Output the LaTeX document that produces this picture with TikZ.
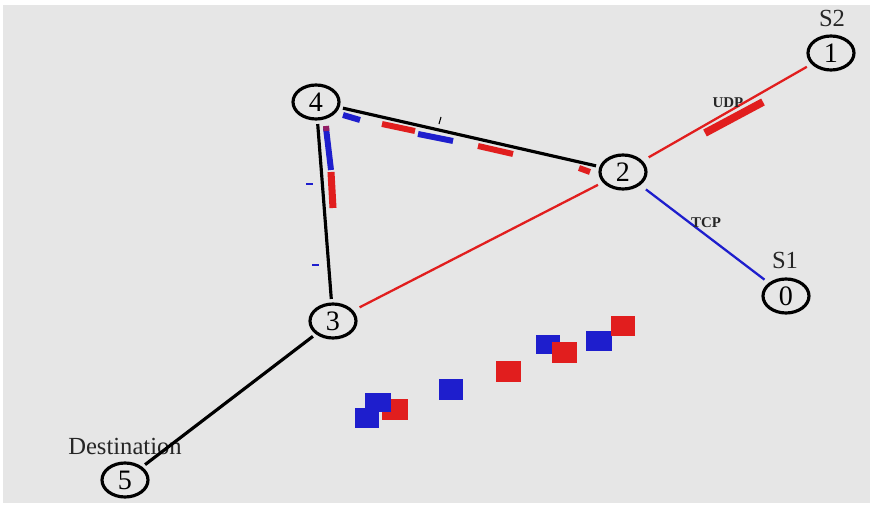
\documentclass[tikz,border=0pt]{standalone}
\usepackage{fontspec}
\setmainfont{Liberation Serif}
\usetikzlibrary{shapes.geometric}

\definecolor{namback}{RGB}{230,230,230}
\definecolor{namred}{RGB}{225,30,30}
\definecolor{namblue}{RGB}{30,30,205}

\begin{document}
\begin{tikzpicture}[
    x=0.02cm, y=-0.02cm,
    nsnode/.style={
        ellipse,
        draw=black,
        line width=1.8pt,
        minimum width=0.92cm,
        minimum height=0.68cm,
        inner sep=0pt,
        font=\fontsize{16}{18}\selectfont
    },
    tag/.style={font=\fontsize{14}{16}\selectfont, text=black!85},
    flowtag/.style={font=\fontsize{8.5}{9}\selectfont\bfseries, text=black!85},
    wired/.style={line width=1.8pt, black, shorten <=2pt, shorten >=2pt},
    redlink/.style={line width=1.3pt, namred, shorten <=4pt, shorten >=3pt},
    bluelink/.style={line width=1.3pt, namblue, shorten <=4pt, shorten >=3pt},
    pkt/.style={line width=3.4pt}
]

% background
\fill[white] (0, 0) rectangle (873, 506);
\fill[namback] (3, 5) rectangle (870, 503);

% nodes
\node[nsnode] (n4) at (316, 102) {4};
\node[nsnode] (n2) at (623, 172) {2};
\node[nsnode] (n1) at (831,  53) {1};
\node[nsnode] (n0) at (786, 296) {0};
\node[nsnode] (n3) at (333, 321) {3};
\node[nsnode] (n5) at (125, 480) {5};

\node[tag] (s2)   at (832,  18) {S2};
\node[tag] (s1)   at (785, 260) {S1};
\node[tag] (dest) at (125, 446) {Destination};

% links
\draw[wired]    (n4) -- (n2);
\draw[wired]    (n4) -- (n3);
\draw[wired]    (n3) -- (n5);
\draw[redlink]  (n3) -- (n2);
\draw[redlink]  (n2) -- (n1);
\draw[bluelink] (n2) -- (n0);

\node[flowtag] (udp) at (728, 103) {UDP};
\node[flowtag] (tcp) at (706, 223) {TCP};

% packets in flight
\draw[pkt, namred, line width=4.4pt] (705, 133) -- (763, 102);
\draw[pkt, namblue] (343, 115) -- (360, 120);
\draw[pkt, namred]  (382, 124) -- (415, 131);
\draw[pkt, namblue] (418, 134) -- (453, 141);
\draw[pkt, namred]  (478, 146) -- (513, 154);
\draw[pkt, namred]  (579, 168) -- (590, 172);
\draw[pkt, namblue] (326, 128) -- (331, 170);
\draw[pkt, namred, line width=4pt] (331, 172) -- (333, 208);
\draw[namred!60!namblue, pkt] (326, 126) -- (326.5, 131);
\draw[line width=0.6pt] (439, 124) -- (441, 117);
\draw[namblue, line width=1.2pt] (306, 184) -- (313, 184);
\draw[namblue, line width=1.2pt] (312, 265) -- (319, 265);

% dropped packets
\fill[namred]  (382, 399) rectangle (408, 420);
\fill[namblue] (365, 393) rectangle (391, 412);
\fill[namblue] (355, 408) rectangle (379, 428);
\fill[namblue] (439, 379) rectangle (463, 400);
\fill[namred]  (496, 361) rectangle (521, 382);
\fill[namblue] (536, 335) rectangle (560, 354);
\fill[namred]  (552, 342) rectangle (577, 363);
\fill[namblue] (586, 331) rectangle (612, 351);
\fill[namred]  (611, 316) rectangle (635, 336);

\end{tikzpicture}
\end{document}
